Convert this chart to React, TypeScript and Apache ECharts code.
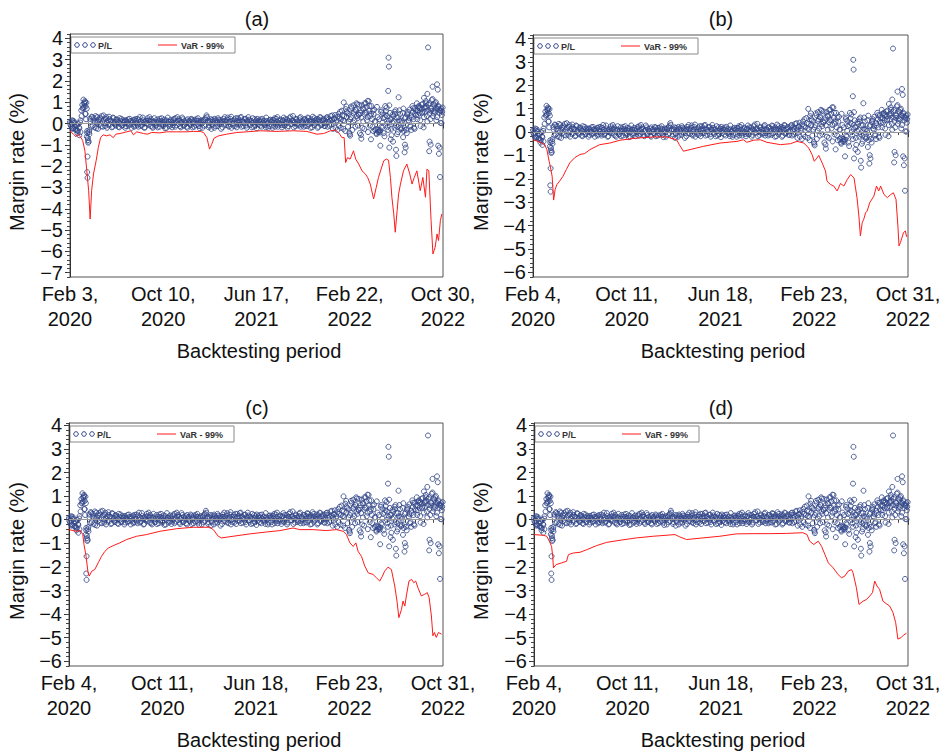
import React, { useEffect, useRef } from 'react';
import * as echarts from 'echarts';

// ---------- data ----------
const xTickDays = [0, 250, 500, 750, 1000];
const xLabelsA = ['Feb 3,\n2020', 'Oct 10,\n2020', 'Jun 17,\n2021', 'Feb 22,\n2022', 'Oct 30,\n2022'];
const xLabelsBCD = ['Feb 4,\n2020', 'Oct 11,\n2020', 'Jun 18,\n2021', 'Feb 23,\n2022', 'Oct 31,\n2022'];
const yTicksA = [-7, -6, -5, -4, -3, -2, -1, 0, 1, 2, 3, 4];
const yTicksBCD = [-6, -5, -4, -3, -2, -1, 0, 1, 2, 3, 4];
const panelTitles = ['(a)', '(b)', '(c)', '(d)'];
const legendNames = ['P/L', 'VaR - 99%'];

// P/L (%) sampled every 3 calendar days from the start of the backtest (day 0, 3, 6, ...)
const plStepDays = 3;
const plValues = [
  0.08, -0.12, 0.15, -0.22, 0.02, -0.28, -0.1, -0.35, -0.18, 0.05,
  0.62, 0.88, 1.12, 0.93, 0.45, -0.62, -0.78, -0.4, 0.22, -0.15,
  0.3, 0.12, -0.18, 0.35, 0.05, -0.25, 0.18, 0.28, -0.12, 0.1,
  0.38, 0.02, 0.22, -0.2, 0.15, 0.32, -0.05, 0.12, -0.15, 0.25,
  0.08, -0.1, 0.18, 0.05, -0.18, 0.12, 0.22, -0.08, 0.02, 0.15,
  -0.12, 0.08, 0.2, -0.05, 0.1, -0.2, 0.05, 0.18, -0.1, 0.12,
  0.22, -0.15, 0.0, 0.1, -0.08, 0.28, 0.05, -0.18, 0.12, -0.02,
  0.15, 0.3, -0.12, 0.08, -0.2, 0.1, 0.02, -0.1, 0.2, 0.05,
  -0.15, 0.12, 0.25, -0.05, 0.08, -0.22, 0.15, 0.0, 0.1, -0.12,
  0.18, 0.05, -0.08, 0.22, -0.15, 0.1, 0.3, -0.02, 0.12, -0.18,
  0.08, 0.2, -0.1, 0.05, 0.15, -0.2, 0.02, 0.12, -0.08, 0.18,
  0.1, -0.15, 0.05, 0.2, -0.05, 0.12, -0.22, 0.08, 0.0, 0.15,
  -0.1, 0.25, 0.38, 0.05, -0.18, 0.12, 0.2, -0.08, 0.1, -0.2,
  0.15, 0.02, -0.12, 0.18, 0.08, -0.25, 0.1, 0.22, -0.05, 0.12,
  0.05, 0.28, -0.15, 0.1, 0.32, 0.0, -0.1, 0.2, 0.12, -0.18,
  0.25, 0.08, -0.05, 0.3, 0.15, -0.12, 0.05, 0.22, -0.2, 0.1,
  0.18, -0.08, 0.12, 0.02, -0.15, 0.2, 0.08, -0.22, 0.05, 0.15,
  -0.1, 0.1, 0.22, -0.05, 0.0, -0.18, 0.12, 0.05, -0.12, 0.18,
  0.08, -0.2, 0.15, 0.25, -0.05, 0.1, -0.15, 0.02, 0.18, -0.08,
  0.12, 0.28, -0.1, 0.05, 0.2, -0.12, 0.1, 0.32, -0.02, 0.15,
  -0.18, 0.08, 0.22, 0.0, -0.1, 0.15, 0.3, -0.05, 0.1, -0.15,
  0.2, 0.05, -0.12, 0.25, 0.12, -0.2, 0.08, 0.32, -0.08, 0.15,
  0.05, 0.22, -0.15, 0.1, 0.28, -0.05, 0.15, 0.02, -0.12, 0.2,
  0.3, 0.08, -0.1, 0.35, 0.18, -0.25, 0.22, 0.4, 0.05, -0.3,
  0.45, 0.25, -0.2, 0.6, 0.15, 0.35, -0.35, 0.8, 0.5, 0.1,
  -0.5, 0.3, 0.72, 0.05, 0.55, -0.15, 0.95, 0.25, 0.4, -0.45,
  0.62, 0.85, 0.1, -0.25, 0.5, 0.78, 0.3, 1.05, -0.1, 0.45,
  0.2, -0.35, 0.65, 0.1, -0.5, 0.3, -0.3, -0.42, 0.55, -0.2,
  0.25, -0.6, 0.4, 0.75, -0.15, 0.12, 0.5, -0.25, 0.05, 0.35,
  -0.2, 0.62, 0.28, -0.4, 0.15, 0.45, -0.28, 0.05, 0.7, -0.2,
  0.3, -0.45, 0.55, 0.1, -0.15, 0.38, 0.82, 0.2, -0.25, 0.6,
  0.95, 0.4, 0.72, 0.15, 0.88, 0.55, -0.18, 0.78, 1.05, 0.35,
  0.62, 0.95, 0.2, 0.7, 1.15, 0.48, 0.85, 1.0, 0.3, 0.78,
  0.65, 0.58, 0.02, 0.75,
];

// P/L (%) on the intermediate trading days (day 1, 4, 7, ...)
const plOffsetDays2 = 1;
const plValues2 = [
  -0.05, 0.1, -0.25, 0.05, -0.15, -0.08, -0.32, 0.0, -0.22, 0.15,
  0.35, 0.7, 0.78, 1.0, 0.2, -0.45, -0.9, -0.3, 0.1, 0.32,
  -0.1, 0.25, 0.08, -0.22, 0.3, 0.1, -0.05, 0.2, 0.35, -0.15,
  0.18, -0.12, 0.3, 0.05, -0.08, 0.2, 0.12, -0.18, 0.28, 0.02,
  -0.05, 0.2, 0.1, -0.15, 0.25, 0.0, -0.1, 0.15, 0.08, -0.2,
  0.15, 0.02, -0.1, 0.22, 0.12, -0.05, 0.1, -0.15, 0.2, 0.05,
  -0.08, 0.18, 0.3, -0.12, 0.05, 0.15, -0.2, 0.1, 0.02, 0.25,
  -0.05, 0.12, 0.2, -0.15, 0.08, 0.25, -0.1, 0.05, -0.18, 0.12,
  0.22, -0.02, 0.1, -0.12, 0.18, 0.05, -0.2, 0.28, 0.08, -0.05,
  0.1, -0.18, 0.15, 0.02, 0.25, -0.08, 0.12, 0.2, -0.12, 0.05,
  0.28, -0.1, 0.12, 0.0, -0.15, 0.2, 0.1, -0.05, 0.22, -0.18,
  0.05, 0.18, -0.08, 0.12, 0.25, -0.12, 0.02, 0.15, -0.2, 0.1,
  0.2, -0.05, 0.3, 0.12, -0.1, 0.08, -0.25, 0.18, 0.05, 0.22,
  -0.12, 0.1, 0.25, -0.02, 0.15, 0.05, -0.18, 0.12, 0.3, -0.08,
  0.18, -0.1, 0.08, 0.22, -0.2, 0.12, 0.02, -0.12, 0.25, 0.1,
  -0.05, 0.15, 0.28, -0.15, 0.1, 0.02, 0.2, -0.1, 0.12, 0.3,
  -0.02, 0.1, -0.18, 0.25, 0.05, -0.1, 0.15, 0.22, -0.05, 0.08,
  0.2, -0.15, 0.05, 0.12, -0.08, 0.28, 0.0, -0.2, 0.15, 0.1,
  -0.1, 0.18, 0.05, -0.15, 0.22, 0.3, -0.05, 0.12, 0.0, -0.18,
  0.15, -0.08, 0.2, 0.08, -0.2, 0.12, 0.25, -0.02, 0.1, 0.35,
  0.05, -0.12, 0.18, 0.1, -0.05, 0.25, -0.15, 0.12, 0.02, 0.2,
  -0.1, 0.15, 0.28, -0.05, 0.08, 0.2, -0.18, 0.1, 0.25, 0.0,
  0.12, -0.2, 0.18, 0.3, -0.08, 0.1, 0.22, -0.12, 0.05, 0.28,
  -0.15, 0.2, 0.12, -0.05, 0.38, 0.1, 0.25, -0.2, 0.15, 0.32,
  -0.1, 0.55, 0.2, 0.38, -0.25, 0.12, 0.68, 0.3, -0.15, 0.45,
  0.2, 0.8, -0.3, 0.48, 0.15, 0.65, 0.35, -0.1, 0.88, 0.5,
  0.28, -0.2, 0.7, 0.42, 0.95, 0.15, -0.4, 0.6, 0.35, 0.82,
  -0.15, 0.45, 0.1, -0.25, 0.78, -0.4, 0.2, -0.32, 0.62, 0.05,
  -0.45, 0.3, 0.58, 0.0, -0.3, 0.85, 0.2, -0.55, 0.42, 0.1,
  0.45, -0.1, -0.5, 0.3, 0.62, -0.2, 0.12, 0.5, -0.35, 0.25,
  -0.3, 0.42, 0.15, 0.65, -0.1, 0.28, 0.55, -0.2, 0.72, 0.4,
  0.2, 0.78, 0.5, -0.12, 0.68, 0.92, 0.3, 0.55, 0.8, 0.1,
  0.88, 0.45, 0.72, 1.1, 0.35, 0.6, 0.95, 0.15, 0.7, 0.82,
  0.5, 0.62, 0.4,
];

// additional P/L observations [day, %]
const plExtra: [number, number][] = [
  [5, -0.2], [10, 0.12], [15, -0.28], [20, -0.45], [25, -0.55], [28, -0.4],
  [36, 0.72], [38, 0.95], [40, 1.05], [41, 0.45], [42, 0.8], [44, 0.98], [45, 0.7],
  [46, -0.35], [48, -0.68], [50, -0.85], [52, -0.5], [47, -1.55], [46, -2.28], [47, -2.55],
  [734, 0.99], [742, 0.55], [749, -0.43], [751, -0.57], [760, 0.85], [765, 0.62], [770, 0.9],
  [775, 0.42], [780, -0.54], [781, -0.71], [785, 0.7], [790, 0.95], [795, 0.52], [798, 1.06],
  [803, 0.82], [807, -0.74], [812, 0.6], [818, -0.3], [822, -0.45], [825, -0.28], [828, -0.38],
  [832, -1.04], [835, -0.15], [838, 0.48], [845, 0.82], [850, 0.35], [853, 1.53], [854, 3.09],
  [855, 2.67], [856, -1.13], [860, -0.74], [862, 0.2], [866, -0.85], [870, 0.55], [874, -1.23],
  [875, -1.52], [878, -0.15], [881, 1.23], [885, 0.1], [890, -0.22], [893, -0.64], [897, -1.35],
  [898, -0.99], [900, -1.13], [905, 0.48], [910, 0.25], [915, -0.3], [920, 0.72], [925, 0.45],
  [932, 0.6], [935, 0.82], [940, 0.75], [944, 0.5], [949, 1.2], [952, 0.7], [955, 0.95],
  [958, 1.39], [960, 3.57], [963, -1.3], [964, -0.85], [967, -0.99], [968, 0.6], [972, 1.73],
  [975, 0.9], [978, 0.55], [981, 0.72], [984, 1.84], [986, 1.59], [987, -1.04], [989, -1.42],
  [991, -1.13], [992, -2.51], [993, 0.03], [995, 0.7], [998, 0.55],
];

// VaR 99% (%) per model [day, %]
const varA: [number, number][] = [
  [0, -0.34], [9, -0.5], [16, -0.62], [22, -0.5], [29, -0.65], [34, -0.8], [40, -1.28], [45, -2.2],
  [50, -3.15], [54, -4.48], [58, -3.15], [63, -2.37], [70, -1.75], [76, -1.12], [82, -0.66], [89, -0.53],
  [98, -0.58], [107, -0.53], [116, -0.66], [123, -0.5], [134, -0.47], [152, -0.39], [163, -0.34],
  [170, -0.53], [179, -0.39], [197, -0.47], [208, -0.5], [219, -0.42], [241, -0.44], [259, -0.39],
  [286, -0.39], [313, -0.39], [331, -0.37], [349, -0.37], [358, -0.42], [367, -0.66], [374, -1.2],
  [380, -0.97], [386, -0.69], [398, -0.58], [420, -0.5], [447, -0.42], [474, -0.39], [510, -0.34],
  [555, -0.37], [599, -0.34], [635, -0.37], [662, -0.5], [680, -0.47], [698, -0.34], [711, -0.31],
  [720, -0.42], [729, -0.66], [735, -0.66], [739, -1.83], [744, -1.6], [751, -1.67], [760, -1.28],
  [766, -1.67], [774, -1.9], [783, -2.22], [792, -2.37], [798, -2.53], [805, -2.84], [814, -3.54],
  [821, -3.0], [827, -2.53], [834, -2.14], [841, -1.75], [848, -1.67], [854, -1.72], [859, -2.53],
  [863, -3.46], [868, -4.24], [872, -5.1], [877, -4.09], [881, -3.3], [886, -2.84], [894, -2.22],
  [903, -1.9], [911, -2.37], [917, -2.84], [923, -2.53], [930, -2.22], [939, -3.15], [946, -2.53],
  [953, -3.46], [957, -2.14], [962, -2.22], [968, -4.55], [973, -6.12], [979, -5.8], [984, -5.18],
  [988, -5.49], [993, -4.55], [997, -4.24],
];
const varB: [number, number][] = [
  [0, -0.33], [13, -0.4], [22, -0.47], [31, -0.54], [37, -0.75], [43, -1.25], [46, -1.46], [51, -1.89],
  [55, -2.91], [59, -2.45], [64, -2.24], [71, -2.1], [80, -1.89], [89, -1.6], [98, -1.32], [111, -1.1],
  [125, -0.96], [138, -0.92], [152, -0.75], [178, -0.54], [205, -0.47], [232, -0.35], [276, -0.26],
  [321, -0.21], [356, -0.21], [383, -0.33], [390, -0.54], [401, -0.82], [419, -0.75], [455, -0.61],
  [499, -0.47], [544, -0.4], [561, -0.33], [570, -0.44], [588, -0.35], [606, -0.33], [624, -0.44],
  [660, -0.54], [686, -0.5], [704, -0.4], [722, -0.47], [735, -0.68], [744, -0.96], [750, -1.25],
  [758, -1.1], [762, -1.0], [771, -1.32], [780, -1.67], [784, -2.1], [793, -2.24], [802, -2.31],
  [811, -2.52], [820, -2.2], [829, -2.31], [838, -2.03], [847, -1.82], [856, -1.96], [864, -2.81],
  [869, -3.59], [873, -4.44], [878, -3.87], [882, -3.73], [887, -3.45], [891, -3.38], [898, -3.02],
  [909, -2.74], [916, -2.31], [922, -2.52], [927, -2.31], [936, -2.67], [945, -2.81], [954, -2.67],
  [961, -2.6], [968, -2.88], [973, -4.01], [976, -4.87], [980, -4.72], [988, -4.3], [993, -4.23],
  [996, -4.47], [998, -4.44],
];
const varC: [number, number][] = [
  [0, -0.42], [20, -0.49], [31, -0.46], [37, -0.63], [40, -1.05], [45, -1.48], [51, -2.25], [54, -2.39],
  [61, -2.18], [69, -2.11], [78, -1.83], [87, -1.55], [96, -1.34], [105, -1.2], [118, -1.1], [136, -0.98],
  [154, -0.84], [181, -0.7], [207, -0.63], [243, -0.49], [288, -0.38], [332, -0.32], [377, -0.32],
  [386, -0.42], [399, -0.7], [408, -0.77], [439, -0.7], [484, -0.6], [528, -0.52], [564, -0.46],
  [599, -0.35], [617, -0.42], [653, -0.42], [688, -0.46], [715, -0.42], [733, -0.49], [742, -0.63],
  [751, -0.98], [760, -1.13], [767, -0.98], [773, -1.34], [782, -1.55], [791, -1.97], [800, -2.25],
  [813, -2.32], [822, -2.46], [831, -2.6], [838, -2.39], [844, -2.18], [853, -2.01], [862, -2.11],
  [871, -2.81], [877, -3.45], [882, -4.15], [889, -3.8], [893, -3.45], [898, -3.66], [902, -3.23],
  [909, -2.6], [916, -2.53], [922, -2.67], [927, -2.6], [933, -2.88], [942, -3.23], [951, -3.16],
  [958, -3.09], [963, -3.31], [969, -4.08], [973, -4.92], [977, -4.78], [982, -4.99], [988, -4.78],
  [996, -4.85],
];
const varD: [number, number][] = [
  [0, -0.63], [25, -0.66], [34, -0.7], [41, -0.91], [47, -1.13], [50, -1.55], [52, -2.04], [59, -1.9],
  [74, -1.83], [87, -1.76], [92, -1.48], [105, -1.41], [123, -1.38], [141, -1.27], [167, -1.1],
  [194, -0.96], [230, -0.87], [274, -0.77], [319, -0.7], [377, -0.63], [390, -0.73], [408, -0.84],
  [452, -0.77], [497, -0.7], [541, -0.6], [586, -0.59], [630, -0.59], [675, -0.58], [719, -0.55],
  [730, -0.63], [737, -0.91], [748, -1.05], [760, -0.91], [769, -1.13], [778, -1.48], [787, -1.83],
  [800, -2.04], [813, -2.32], [822, -2.46], [831, -2.39], [840, -2.18], [849, -2.11], [853, -2.25],
  [862, -2.88], [869, -3.59], [880, -3.45], [889, -3.38], [898, -3.23], [905, -3.09], [911, -2.6],
  [917, -2.81], [924, -2.95], [933, -3.45], [942, -3.56], [951, -3.66], [960, -3.94], [967, -4.36],
  [973, -5.06], [982, -4.99], [988, -4.89], [996, -4.81],
];

// ---------- layout ----------
const FONT = '"Liberation Sans", Arial, Helvetica, sans-serif';
const BLUE = '#34488a';
const RED = '#ff1a1a';

const panels = [
  { grid: { left: 70, top: 34, width: 373, height: 243 }, yMin: -7.2, yMax: 4.2, yTicks: yTicksA, xLabels: xLabelsA, varData: varA, titleY: 19, yTitleY: 162, xTitleY: 351, cx: 257, yTitleX: 17 },
  { grid: { left: 533, top: 35, width: 375, height: 242 }, yMin: -6.2, yMax: 4.15, yTicks: yTicksBCD, xLabels: xLabelsBCD, varData: varB, titleY: 19, yTitleY: 162, xTitleY: 351, cx: 721, yTitleX: 481 },
  { grid: { left: 69, top: 423, width: 374, height: 243 }, yMin: -6.2, yMax: 4.1, yTicks: yTicksBCD, xLabels: xLabelsBCD, varData: varC, titleY: 408, yTitleY: 551, xTitleY: 740, cx: 257, yTitleX: 17 },
  { grid: { left: 534, top: 423, width: 374, height: 243 }, yMin: -6.2, yMax: 4.1, yTicks: yTicksBCD, xLabels: xLabelsBCD, varData: varD, titleY: 408, yTitleY: 551, xTitleY: 740, cx: 721, yTitleX: 481 },
];

function buildOption() {
  const plData: [number, number][] = plValues
    .map((v, i) => [i * plStepDays, v] as [number, number])
    .concat(plValues2.map((v, i) => [plOffsetDays2 + i * plStepDays, v] as [number, number]))
    .concat(plExtra);
  const grids: any[] = [];
  const xAxes: any[] = [];
  const yAxes: any[] = [];
  const series: any[] = [];
  const graphics: any[] = [];

  panels.forEach((p, k) => {
    grids.push({ ...p.grid, show: true, borderColor: '#555', borderWidth: 1, backgroundColor: 'transparent' });
    xAxes.push({
      type: 'value', gridIndex: k, min: 0, max: 1000, position: 'bottom',
      axisLine: { show: true, lineStyle: { color: '#333', width: 1 } },
      axisTick: { show: true, customValues: xTickDays, length: 5, lineStyle: { color: '#333' } },
      axisLabel: {
        customValues: xTickDays,
        formatter: (v: number) => p.xLabels[xTickDays.indexOf(v)] ?? '',
        fontFamily: FONT, fontSize: 20, lineHeight: 25, color: '#111', margin: 4,
      },
      splitLine: { show: false },
    });
    xAxes.push({
      type: 'value', gridIndex: k, min: 0, max: 1000, interval: 25, position: 'bottom',
      axisLine: { show: false }, axisLabel: { show: false }, splitLine: { show: false },
      axisTick: { show: true, length: 3, lineStyle: { color: '#444' } },
    });
    yAxes.push({
      type: 'value', gridIndex: k, min: p.yMin, max: p.yMax, position: 'left',
      axisLine: { show: true, lineStyle: { color: '#333', width: 1 } },
      axisTick: { show: true, customValues: p.yTicks, length: 5, lineStyle: { color: '#333' } },
      axisLabel: {
        customValues: p.yTicks,
        formatter: (v: number) => (v < 0 ? '\u2212' + Math.abs(v) : String(v)),
        fontFamily: FONT, fontSize: 20, color: '#111', margin: 7,
      },
      splitLine: { show: false },
    });
    yAxes.push({
      type: 'value', gridIndex: k, min: p.yMin, max: p.yMax, interval: 0.2, position: 'left',
      axisLine: { show: false }, axisLabel: { show: false }, splitLine: { show: false },
      axisTick: { show: true, length: 3, lineStyle: { color: '#444' } },
    });

    series.push({
      type: 'scatter', name: legendNames[0], xAxisIndex: 2 * k, yAxisIndex: 2 * k,
      data: plData, symbol: 'circle', symbolSize: 5,
      itemStyle: { color: 'rgba(0,0,0,0)', borderColor: BLUE, borderWidth: 1, opacity: 0.85 },
      markLine: {
        silent: true, symbol: ['none', 'none'], label: { show: false },
        lineStyle: { color: '#999', width: 1, type: 'solid' },
        data: [{ yAxis: 0 }],
      },
      z: 2,
    });
    series.push({
      type: 'line', name: legendNames[1], xAxisIndex: 2 * k, yAxisIndex: 2 * k,
      data: p.varData, showSymbol: false, symbol: 'none',
      lineStyle: { color: RED, width: 1 }, z: 3,
    });

    graphics.push({ type: 'text', x: p.cx, y: p.titleY, style: { text: panelTitles[k], fontFamily: FONT, fontSize: 20, fill: '#111', align: 'center', verticalAlign: 'middle' } });
    graphics.push({ type: 'text', x: p.cx + 2, y: p.xTitleY, style: { text: 'Backtesting period', fontFamily: FONT, fontSize: 20, fill: '#111', align: 'center', verticalAlign: 'middle' } });
    graphics.push({ type: 'text', x: p.yTitleX, y: p.yTitleY, rotation: Math.PI / 2, style: { text: 'Margin rate (%)', fontFamily: FONT, fontSize: 20, fill: '#111', align: 'center', verticalAlign: 'middle' } });

    const lx = p.grid.left + 1;
    const ly = p.grid.top + 3;
    graphics.push({
      type: 'group', x: lx, y: ly, z: 10,
      children: [
        { type: 'rect', shape: { x: 0, y: 0, width: 164, height: 16 }, style: { fill: '#fff', stroke: '#8a8a8a', lineWidth: 1 } },
        { type: 'circle', shape: { cx: 6, cy: 8, r: 2.3 }, style: { fill: 'none', stroke: BLUE, lineWidth: 1 } },
        { type: 'circle', shape: { cx: 14, cy: 8, r: 2.3 }, style: { fill: 'none', stroke: BLUE, lineWidth: 1 } },
        { type: 'circle', shape: { cx: 22, cy: 8, r: 2.3 }, style: { fill: 'none', stroke: BLUE, lineWidth: 1 } },
        { type: 'text', x: 27, y: 8.5, style: { text: legendNames[0], fontFamily: FONT, fontSize: 9, fontWeight: 'bold', fill: '#333', align: 'left', verticalAlign: 'middle' } },
        { type: 'line', shape: { x1: 87, y1: 8, x2: 106, y2: 8 }, style: { stroke: RED, lineWidth: 1 } },
        { type: 'text', x: 110, y: 8.5, style: { text: legendNames[1], fontFamily: FONT, fontSize: 9, fontWeight: 'bold', fill: '#333', align: 'left', verticalAlign: 'middle' } },
      ],
    });
  });

  return {
    animation: false,
    backgroundColor: '#ffffff',
    textStyle: { fontFamily: FONT },
    grid: grids,
    xAxis: xAxes,
    yAxis: yAxes,
    series,
    graphic: graphics,
  };
}

export default function App() {
  const ref = useRef<HTMLDivElement>(null);
  useEffect(() => {
    if (!ref.current) return;
    const chart = echarts.init(ref.current, undefined, { renderer: 'svg' });
    chart.setOption(buildOption() as any);
    return () => chart.dispose();
  }, []);
  return <div ref={ref} style={{ position: 'absolute', left: 0, top: 0, width: 948, height: 752 }} />;
}
